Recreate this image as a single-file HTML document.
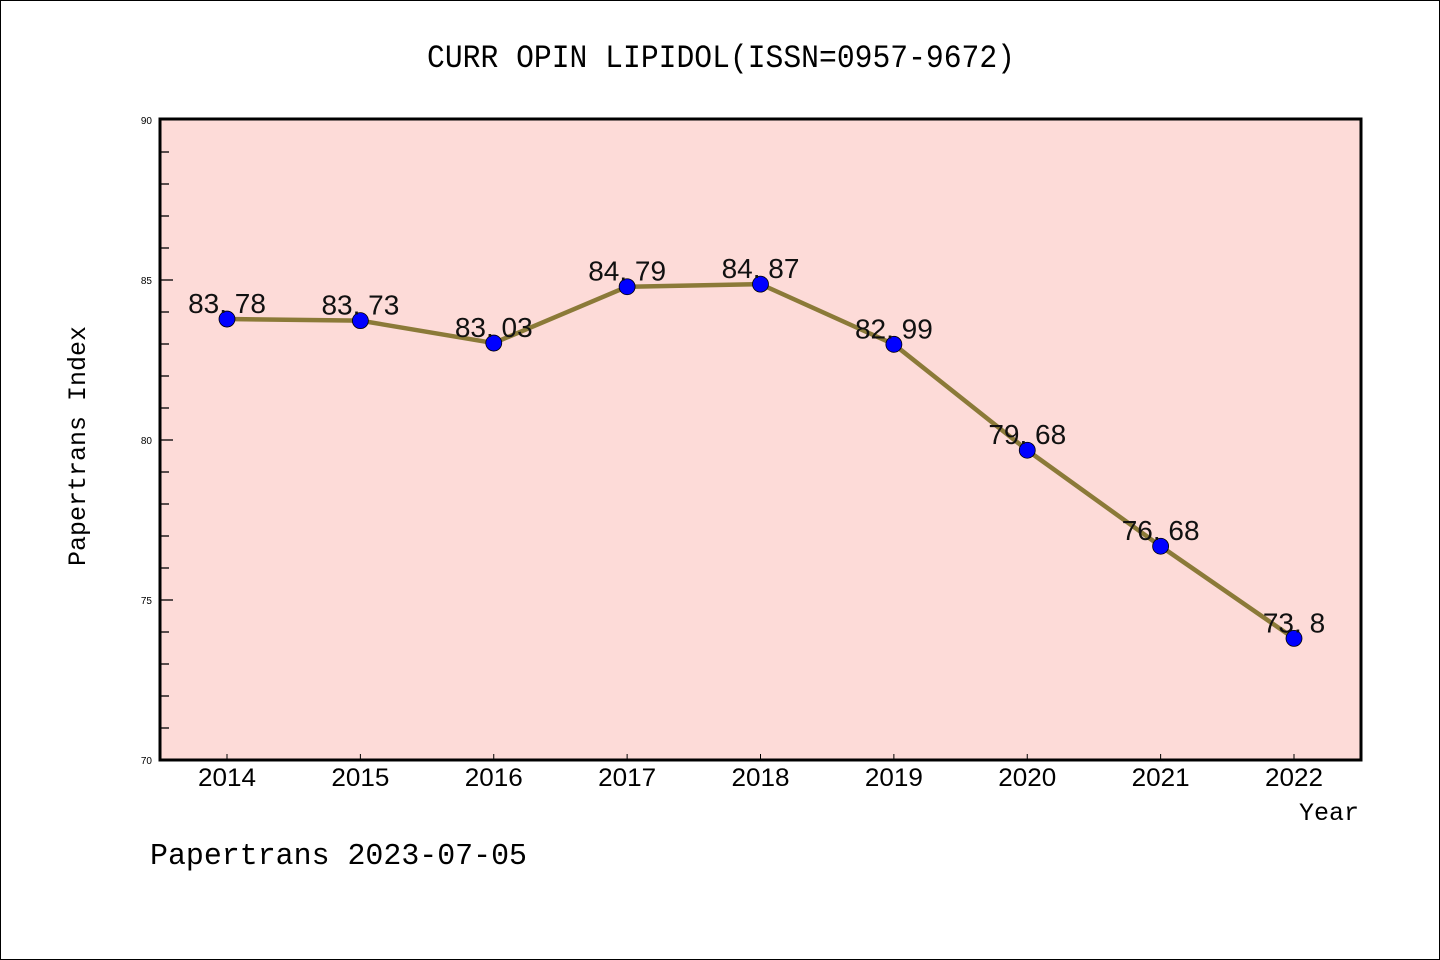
<!DOCTYPE html>
<html><head><meta charset="utf-8"><style>
html,body{margin:0;padding:0;background:#fff}
svg{display:block}
</style></head><body>
<svg width="1440" height="960" viewBox="0 0 1440 960" xmlns="http://www.w3.org/2000/svg">
<rect x="0.5" y="0.5" width="1439" height="959" fill="#fff" stroke="#000" stroke-width="1"/>
<text x="721" y="67" font-family="Liberation Mono, monospace" font-size="32" text-anchor="middle" textLength="588" lengthAdjust="spacingAndGlyphs">CURR OPIN LIPIDOL(ISSN=0957-9672)</text>
<rect x="160" y="119" width="1201" height="641" fill="#fddbd8" stroke="#000" stroke-width="3"/>
<g id="yticks"></g>
<g id="xticks"></g>
<g id="series"></g>
<text x="85" y="446" font-family="Liberation Mono, monospace" font-size="25" text-anchor="middle" transform="rotate(-90 85 446)" textLength="240" lengthAdjust="spacingAndGlyphs">Papertrans Index</text>
<text x="1359" y="820" font-family="Liberation Mono, monospace" font-size="25" text-anchor="end">Year</text>
<text x="150" y="864" font-family="Liberation Mono, monospace" font-size="31" textLength="377" lengthAdjust="spacingAndGlyphs">Papertrans 2023-07-05</text>
</svg>
<script>
const years = ["2014","2015","2016","2017","2018","2019","2020","2021","2022"];
const values = [83.78,83.73,83.03,84.79,84.87,82.99,79.68,76.68,73.8];
const valueLabels = ["83.78","83.73","83.03","84.79","84.87","82.99","79.68","76.68","73.8"];
const yTicks = [70,75,80,85,90];
const yMin = 70, yMax = 90;
const NS = "http://www.w3.org/2000/svg";
function yScale(v){ return 760 - (v - yMin) / (yMax - yMin) * 640; }
function xScale(i){ return 227 + i * (1294 - 227) / (years.length - 1); }
function mk(tag, attrs, parent, text){
  const e = document.createElementNS(NS, tag);
  for (const k in attrs) e.setAttribute(k, attrs[k]);
  if (text !== undefined) e.textContent = text;
  parent.appendChild(e); return e;
}
const yg = document.getElementById('yticks');
for (let v = yMin + 1; v < yMax; v++) {
  const major = v % 5 === 0;
  const t = mk('line', {x1:160, x2: major ? 173 : 169, y1: yScale(v), y2: yScale(v), stroke:'#000', 'stroke-width':1.3}, yg);
  
  
}
yTicks.forEach(v => {
  const t = mk('text', {x:152, y: yScale(v) + 4, 'font-family':'Liberation Sans, sans-serif', 'font-size':10, 'text-anchor':'end'}, yg, String(v));
  
  
});
const xg = document.getElementById('xticks');
years.forEach((y, i) => {
  const t = mk('line', {x1: xScale(i), x2: xScale(i), y1: 754, y2: 760, stroke:'#000', 'stroke-width':1}, xg);
  
  
  const l = mk('text', {x: xScale(i), y: 786, 'font-family':'Liberation Sans, sans-serif', 'font-size':25, 'text-anchor':'middle', textLength:58, lengthAdjust:'spacingAndGlyphs'}, xg, y);
  
  
});
const sg = document.getElementById('series');
const pts = values.map((v, i) => xScale(i) + ',' + yScale(v)).join(' ');
const line = mk('polyline', {points: pts, fill:'none', stroke:'#8b7a38', 'stroke-width':4.5, 'stroke-linejoin':'round'}, sg);


values.forEach((v, i) => {
  const c = mk('circle', {cx: xScale(i), cy: yScale(v), r: 8, fill:'#0000ff', stroke:'#000', 'stroke-width':0.8}, sg);
  
  
});
values.forEach((v, i) => {
  const lbl = valueLabels[i].replace('.', '. ');
  const t = mk('text', {x: xScale(i), y: yScale(v) - 6, 'font-family':'Liberation Sans, sans-serif', 'font-size':28, 'text-anchor':'middle', fill:'#111'}, sg, lbl);
  
  
});
</script>
</body></html>
